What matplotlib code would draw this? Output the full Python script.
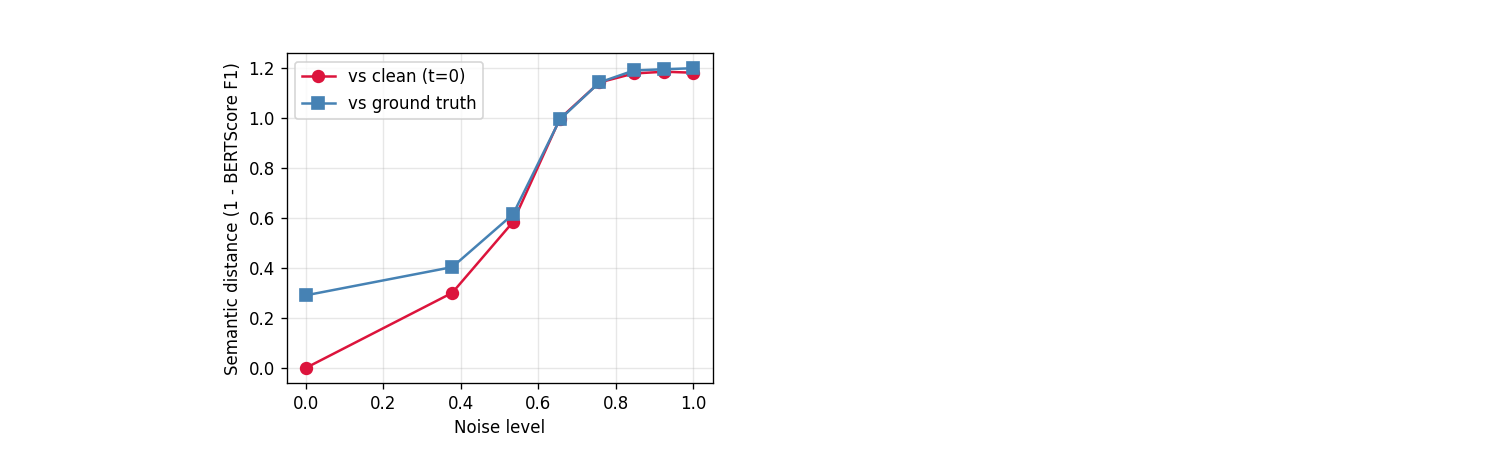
import numpy as np
import matplotlib
matplotlib.use("Agg")
import matplotlib.pyplot as plt

# noise levels and distances
noise = [0.0, 0.378, 0.535, 0.656, 0.758, 0.847, 0.926, 1.0]
dist_clean = [0.0, 0.301, 0.585, 0.999, 1.144, 1.180, 1.187, 1.183]
dist_gt = [0.291, 0.404, 0.616, 0.996, 1.144, 1.192, 1.197, 1.201]

fig = plt.figure(figsize=(12.5, 463 / 120), dpi=120)
ax = fig.add_axes([0.191, 0.173, 0.284, 0.712])

ax.plot(noise, dist_clean, "-o", color="crimson", lw=1.5, ms=7, label="vs clean (t=0)")
ax.plot(noise, dist_gt, "-s", color="steelblue", lw=1.5, ms=7, label="vs ground truth")
ax.set_xlabel("Noise level")
ax.set_ylabel("Semantic distance (1 - BERTScore F1)")
ax.grid(True, alpha=0.3)
ax.legend(loc="upper left")

fig.savefig("out.png", dpi=120)
